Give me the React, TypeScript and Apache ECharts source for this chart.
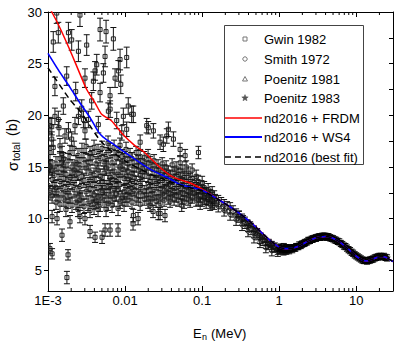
import React, { useEffect, useRef } from "react";
import * as echarts from "echarts";

const X_MIN = 0.001;
const X_MAX = 30;
const Y_MIN = 3;
const Y_MAX = 30;
const yMajorTicks = [5, 10, 15, 20, 25, 30];
const yRightTicks = [5, 7.5, 10, 12.5, 15, 17.5, 20, 22.5, 25, 27.5, 30];
const xMinorTicks = [
  0.002, 0.003, 0.004, 0.005, 0.006, 0.007, 0.008, 0.009,
  0.02, 0.03, 0.04, 0.05, 0.06, 0.07, 0.08, 0.09,
  0.2, 0.3, 0.4, 0.5, 0.6, 0.7, 0.8, 0.9,
  2, 3, 4, 5, 6, 7, 8, 9, 20,
];
const legendNames = [
  "Gwin 1982", "Smith 1972", "Poenitz 1981", "Poenitz 1983",
  "nd2016 + FRDM", "nd2016 + WS4", "nd2016 (best fit)",
];

// Gwin 1982: scattered points above the main band [E (MeV), sigma (b), error]
const gwinUpper = [
  [0.00106, 19.0, 0.8], [0.00112, 17.7, 0.7], [0.00106, 16.4, 0.7], [0.00117, 16.9, 0.7],
  [0.00112, 18.9, 0.8], [0.00123, 19.9, 0.8], [0.00136, 19.6, 0.8], [0.00139, 18.8, 0.8],
  [0.00143, 17.05, 0.7], [0.00158, 20.9, 0.8], [0.00166, 18.0, 0.7], [0.00175, 23.8, 0.9],
  [0.00184, 18.5, 0.8], [0.00203, 17.7, 0.7], [0.00224, 19.0, 0.8], [0.00248, 19.9, 0.8],
  [0.00274, 20.7, 0.8], [0.00302, 18.5, 0.8], [0.00334, 19.6, 0.8], [0.00369, 21.4, 0.8],
  [0.00388, 23.3, 0.9], [0.00408, 24.3, 0.9], [0.00429, 24.9, 1.0], [0.0045, 19.1, 0.8],
  [0.00474, 22.2, 0.9], [0.00523, 24.1, 0.9], [0.0055, 25.7, 1.0], [0.00607, 20.4, 0.8],
  [0.00639, 21.9, 0.8], [0.00742, 23.6, 0.9], [0.0078, 19.5, 0.8], [0.00861, 25.4, 1.0],
  [0.0095, 19.9, 0.8], [0.011, 20.9, 0.8], [0.0128, 20.1, 0.8], [0.0105, 25.6, 1.0],
  [0.00906, 18.3, 0.7], [0.00117, 27.1, 1.0], [0.00136, 28.0, 1.0], [0.0013, 29.9, 1.0],
  [0.00184, 28.0, 1.0], [0.00203, 27.3, 1.0], [0.0026, 29.7, 1.1], [0.00248, 26.2, 1.0],
  [0.00318, 26.8, 1.0], [0.00302, 23.6, 0.9], [0.00474, 28.3, 1.1], [0.00567, 28.1, 1.1],
  [0.00705, 27.4, 1.1], [0.00819, 24.3, 1.0], [0.0088, 23.0, 0.9], [0.00123, 22.8, 0.9],
  [0.00229, 22.3, 0.9], [0.00288, 19.6, 0.8], [0.0064, 20.6, 0.8], [0.0122, 20.1, 0.8],
  [0.0105, 18.65, 0.7], [0.0157, 17.4, 0.7], [0.0191, 19.0, 0.7], [0.02, 18.8, 0.6],
  [0.0233, 18.5, 0.7], [0.0285, 17.4, 0.7], [0.0348, 18.0, 0.7], [0.0424, 17.7, 0.7],
  [0.0314, 17.2, 0.7], [0.0365, 18.65, 0.7], [0.0518, 16.7, 0.6], [0.0602, 16.1, 0.6],
  [0.0895, 16.4, 0.6], [0.00106, 15.1, 0.6], [0.00158, 15.8, 0.6],
];

// Gwin 1982: low outliers below the main band
const gwinLow = [
  [0.00106, 7.1, 0.5], [0.00113, 6.6, 0.5], [0.00182, 6.5, 0.5], [0.00176, 4.3, 0.6],
  [0.00152, 8.4, 0.6], [0.00351, 8.75, 0.6], [0.00408, 8.2, 0.5], [0.00503, 8.2, 0.6],
  [0.0055, 8.9, 0.6], [0.00639, 8.9, 0.6], [0.00811, 8.9, 0.6], [0.0127, 9.5, 0.6],
  [0.0231, 10.7, 0.6], [0.0285, 10.5, 0.6], [0.033, 10.3, 0.6], [0.00113, 10.2, 0.6],
  [0.00131, 10.0, 0.6], [0.00193, 9.7, 0.6], [0.0026, 10.2, 0.6], [0.00302, 10.0, 0.6],
  [0.01476, 10.0, 0.6], [0.027, 10.5, 0.6], [0.0211, 11.3, 0.6], [0.0128, 10.3, 0.6],
  [0.0544, 11.3, 0.6], [0.0943, 11.4, 0.5],
];

// Gwin 1982: dense band [E, error, sigma values]
const gwinBand: [number, number, number[]][] = [
  [0.001, 0.7, [13.2, 14.6]], [0.00106, 0.7, [12.5, 15.0]], [0.00113, 0.7, [13.8, 12.2, 14.9]],
  [0.0012, 0.7, [14.2, 12.8]], [0.00127, 0.7, [13.0, 15.3, 11.6]], [0.00135, 0.7, [14.5, 12.4]],
  [0.00143, 0.7, [13.6, 11.4, 15.8]], [0.00152, 0.7, [12.9, 14.8, 16.3]], [0.00161, 0.7, [11.9, 13.9, 15.2]],
  [0.00171, 0.7, [12.6, 14.3, 10.9]], [0.00182, 0.7, [13.3, 15.6, 11.7]], [0.00193, 0.7, [12.2, 14.0, 16.4]],
  [0.00205, 0.7, [13.5, 11.3, 15.0]], [0.00218, 0.7, [12.8, 14.7, 16.8]], [0.00231, 0.7, [11.6, 13.9, 15.4]],
  [0.00245, 0.7, [12.4, 14.4, 10.9, 16.1]], [0.0026, 0.7, [13.1, 15.2, 11.8]], [0.00276, 0.7, [12.0, 14.1, 16.6]],
  [0.00293, 0.7, [13.7, 11.2, 15.7]], [0.00312, 0.7, [12.6, 14.9, 17.0]], [0.00331, 0.7, [11.5, 13.3, 15.5]],
  [0.00351, 0.7, [12.9, 14.5, 16.3, 10.8]], [0.00373, 0.7, [13.8, 11.9, 15.9]], [0.00396, 0.7, [12.3, 14.2, 16.9, 11.1]],
  [0.0042, 0.7, [13.4, 15.3, 11.7]], [0.00446, 0.7, [12.1, 14.7, 16.5, 10.9]], [0.00474, 0.7, [13.0, 15.8, 11.4, 14.1]],
  [0.00503, 0.7, [12.5, 16.8, 13.6]], [0.00534, 0.7, [11.8, 14.4, 15.5, 13.0]], [0.00567, 0.7, [12.7, 16.2, 10.9, 14.9]],
  [0.00602, 0.7, [13.5, 11.5, 15.1, 17.3]], [0.00639, 0.7, [12.2, 14.0, 16.6, 13.2]], [0.00678, 0.7, [11.3, 15.4, 13.8]],
  [0.0072, 0.7, [12.9, 14.6, 16.9, 11.9]], [0.00764, 0.7, [13.6, 15.9, 12.4]], [0.00811, 0.7, [11.0, 14.3, 16.3, 12.8]],
  [0.00861, 0.7, [13.3, 15.0, 11.7, 17.1]], [0.00914, 0.7, [12.0, 14.8, 16.0]], [0.00971, 0.7, [13.9, 11.4, 15.6, 12.6]],
  [0.0103, 0.7, [12.3, 14.1, 16.7]], [0.0109, 0.6, [13.1, 15.3, 11.8, 14.6]], [0.0116, 0.6, [12.5, 16.2, 13.7]],
  [0.0123, 0.6, [11.6, 14.4, 15.8, 13.0]], [0.0131, 0.6, [12.8, 15.1, 14.0]], [0.0139, 0.6, [13.5, 11.9, 16.4]],
  [0.0148, 0.6, [12.2, 14.7, 15.5]], [0.0157, 0.6, [13.2, 11.4, 14.2, 16.0]], [0.0166, 0.6, [12.6, 15.2, 13.8]],
  [0.0177, 0.6, [11.9, 14.5, 15.9]], [0.0188, 0.6, [13.0, 12.3, 15.0]], [0.0199, 0.6, [14.1, 11.6, 16.1]],
  [0.0211, 0.6, [12.7, 13.6, 15.4]], [0.0224, 0.6, [11.9, 14.8, 13.2]], [0.0238, 0.6, [12.4, 15.6, 14.0]],
  [0.0253, 0.6, [13.4, 11.7, 14.7]], [0.0268, 0.6, [12.1, 15.1, 13.6]], [0.0285, 0.6, [12.9, 14.3, 11.5]],
  [0.0303, 0.6, [13.7, 12.4, 15.3]], [0.0321, 0.6, [11.8, 14.6, 13.1]], [0.0341, 0.6, [12.6, 13.9, 15.0]],
  [0.0362, 0.6, [13.3, 12.0, 14.5]], [0.0384, 0.6, [11.7, 14.1, 12.8]], [0.0408, 0.6, [13.5, 12.3, 15.2]],
  [0.0433, 0.6, [12.9, 14.4, 11.9]], [0.046, 0.6, [12.2, 13.7, 14.9]], [0.0488, 0.6, [13.1, 11.8, 14.3]],
  [0.0518, 0.6, [12.5, 13.9, 15.4]], [0.055, 0.6, [12.0, 13.3, 14.6]], [0.0584, 0.6, [12.8, 11.6, 14.0]],
  [0.062, 0.6, [13.6, 12.3, 15.0]], [0.0659, 0.6, [11.9, 13.0, 14.4]], [0.0699, 0.6, [12.6, 13.8, 11.7]],
  [0.0742, 0.6, [13.2, 12.1, 14.7]], [0.0788, 0.6, [12.4, 13.5]], [0.0837, 0.6, [11.8, 12.9, 14.1]],
  [0.0888, 0.6, [12.7, 13.6, 11.9]], [0.0943, 0.6, [12.2, 13.1]], [0.1001, 0.6, [12.6, 11.8, 13.5]],
  [0.1063, 0.6, [12.0, 13.0]], [0.1128, 0.6, [12.4, 11.6]], [0.1198, 0.6, [11.9, 12.8]],
  [0.1272, 0.6, [12.2, 11.4]], [0.135, 0.6, [11.7, 12.5]], [0.1434, 0.6, [11.5, 12.1]],
];

// Smith 1972 [E, sigma, error]
const smith1972 = [
  [0.103, 12.5, 0.55], [0.113, 12.4, 0.55], [0.113, 11.9, 0.55], [0.124, 12.2, 0.55],
  [0.135, 12.0, 0.55], [0.135, 11.5, 0.55], [0.147, 11.8, 0.55], [0.162, 11.7, 0.55],
  [0.162, 11.2, 0.55], [0.177, 11.5, 0.55], [0.193, 11.3, 0.55], [0.193, 10.8, 0.55],
  [0.211, 11.1, 0.55], [0.231, 11.0, 0.55], [0.231, 10.4, 0.55], [0.252, 10.7, 0.55],
  [0.276, 10.4, 0.55], [0.276, 9.9, 0.55], [0.301, 10.2, 0.55], [0.33, 9.9, 0.55],
  [0.33, 9.4, 0.55], [0.36, 9.6, 0.55], [0.394, 9.3, 0.55], [0.394, 8.8, 0.55],
  [0.431, 9.0, 0.55], [0.471, 8.7, 0.55], [0.471, 8.2, 0.55], [0.515, 8.5, 0.55],
  [0.563, 8.1, 0.5], [0.563, 7.7, 0.5], [0.615, 7.9, 0.5], [0.672, 7.6, 0.5],
  [0.672, 7.2, 0.5], [0.735, 7.5, 0.5], [0.803, 7.3, 0.5], [0.803, 6.9, 0.5],
  [0.878, 7.2, 0.45], [0.96, 7.0, 0.45], [0.96, 6.8, 0.45], [1.05, 7.05, 0.4],
  [1.15, 6.9, 0.4], [1.15, 7.2, 0.4], [1.25, 7.0, 0.4],
];

// Poenitz 1981 [E, sigma, error]
const poenitz1981 = [
  [0.3, 10.4, 0.3], [0.34, 10.0, 0.3], [0.38, 9.6, 0.3], [0.42, 9.4, 0.3],
  [0.47, 9.0, 0.3], [0.52, 8.7, 0.3], [0.58, 8.3, 0.3], [0.64, 8.0, 0.3],
  [0.7, 7.7, 0.3], [0.77, 7.5, 0.3], [0.85, 7.3, 0.3], [0.93, 7.1, 0.3],
  [1.02, 6.9, 0.3], [1.12, 6.8, 0.3], [1.22, 6.85, 0.3], [1.35, 6.9, 0.3],
  [1.48, 7.0, 0.3], [1.62, 7.15, 0.3], [1.78, 7.3, 0.3], [1.95, 7.5, 0.3],
  [2.15, 7.65, 0.3], [2.4, 7.85, 0.3], [2.7, 8.0, 0.3], [3.0, 8.1, 0.3],
  [3.4, 8.2, 0.3], [3.8, 8.3, 0.3], [4.2, 8.25, 0.3],
];

// Poenitz 1983 [E, sigma, error]
const poenitz1983 = [
  [1.0, 7.15, 0.3], [1.047, 7.25, 0.3], [1.096, 7.05, 0.3], [1.148, 7.15, 0.3], [1.202, 7.0, 0.3],
  [1.259, 7.2, 0.3], [1.318, 7.05, 0.3], [1.38, 7.15, 0.3], [1.445, 7.1, 0.3], [1.514, 7.2, 0.3],
  [1.585, 7.15, 0.3], [1.66, 7.3, 0.3], [1.738, 7.3, 0.3], [1.82, 7.45, 0.3], [1.905, 7.4, 0.3],
  [1.995, 7.55, 0.3], [2.089, 7.6, 0.3], [2.188, 7.7, 0.3], [2.291, 7.75, 0.3], [2.399, 7.9, 0.3],
  [2.512, 7.9, 0.3], [2.63, 8.0, 0.3], [2.754, 8.05, 0.3], [2.884, 8.1, 0.3], [3.02, 8.15, 0.3],
  [3.162, 8.2, 0.3], [3.311, 8.25, 0.3], [3.467, 8.2, 0.3], [3.631, 8.3, 0.3], [3.802, 8.25, 0.3],
  [3.981, 8.3, 0.3], [4.169, 8.2, 0.3], [4.365, 8.25, 0.3], [4.571, 8.15, 0.3], [4.786, 8.1, 0.3],
  [5.012, 8.05, 0.3], [5.248, 7.95, 0.3], [5.495, 7.9, 0.3], [5.754, 7.8, 0.3], [6.026, 7.75, 0.3],
  [6.31, 7.6, 0.3], [6.607, 7.5, 0.3], [6.918, 7.35, 0.3], [7.244, 7.3, 0.3], [7.586, 7.15, 0.3],
  [7.943, 7.0, 0.3], [8.318, 6.9, 0.3], [8.71, 6.75, 0.3], [9.12, 6.65, 0.3], [9.55, 6.5, 0.3],
  [10.0, 6.4, 0.3], [10.47, 6.3, 0.3], [10.96, 6.2, 0.3], [11.48, 6.1, 0.3], [12.02, 6.0, 0.3],
  [12.59, 5.95, 0.3], [13.18, 5.95, 0.3], [13.8, 5.9, 0.3], [14.45, 5.95, 0.3], [15.14, 6.0, 0.3],
  [15.85, 6.05, 0.3], [16.6, 6.1, 0.3], [17.38, 6.2, 0.3], [18.2, 6.25, 0.3], [19.05, 6.3, 0.3],
  [19.95, 6.35, 0.3], [20.89, 6.35, 0.3], [21.88, 6.3, 0.3], [22.91, 6.35, 0.3], [23.99, 6.25, 0.3],
  [25.12, 6.2, 0.3],
];

// Model curves [E, sigma]
const highEnergyCurve = [
  [0.171, 11.76], [0.23, 11.15], [0.3, 10.55], [0.42, 9.7], [0.6, 8.6], [0.76, 7.9],
  [1.0, 7.25], [1.2, 7.1], [1.4, 7.1], [1.6, 7.2], [1.86, 7.4], [2.2, 7.7], [2.5, 7.9],
  [2.9, 8.1], [3.4, 8.22], [4.0, 8.27], [4.6, 8.2], [5.3, 8.0], [6.2, 7.7], [7.2, 7.3],
  [8.2, 6.95], [9.5, 6.5], [11.3, 6.1], [12.5, 5.95], [13.8, 5.9], [15.2, 6.0], [16.9, 6.12],
  [18.5, 6.25], [20.5, 6.32], [22.5, 6.32], [24.9, 6.22], [27, 6.05], [30, 5.85],
];
const frdmLow = [
  [0.001, 30.6], [0.00112, 30.0], [0.0014, 28.6], [0.00193, 26.3], [0.00247, 24.4],
  [0.00318, 22.5], [0.00408, 21.2], [0.00497, 20.1], [0.0067, 19.45], [0.009, 18.3],
  [0.0135, 17.05], [0.0173, 16.5], [0.028, 15.0], [0.0384, 14.2], [0.05, 13.8],
  [0.07, 13.45], [0.1, 12.85],
];
const ws4Low = [
  [0.001, 26.0], [0.00136, 24.4], [0.00193, 22.7], [0.0026, 21.2], [0.0035, 19.8],
  [0.0045, 18.4], [0.0052, 17.9], [0.0074, 17.1], [0.0105, 16.3], [0.021, 14.8],
  [0.035, 14.0], [0.052, 13.3], [0.1, 12.75],
];
const bestFitLow = [
  [0.001, 24.6], [0.00193, 21.5], [0.0026, 20.4], [0.0035, 19.0], [0.0045, 17.8],
  [0.006, 16.8], [0.01, 15.6], [0.02, 14.4], [0.035, 13.7], [0.06, 13.1], [0.1, 12.7],
];

const FONT = '"Liberation Sans", Arial, Helvetica, sans-serif';

function starPoints(cx: number, cy: number, R: number, r: number) {
  const pts: number[][] = [];
  for (let i = 0; i < 10; i++) {
    const a = -Math.PI / 2 + (i * Math.PI) / 5;
    const rad = i % 2 === 0 ? R : r;
    pts.push([cx + rad * Math.cos(a), cy + rad * Math.sin(a)]);
  }
  return pts;
}

function makeSymbol(kind: string, x: number, y: number, color: string, fill: string) {
  if (kind === "rect") {
    return { type: "rect", shape: { x: x - 2, y: y - 2, width: 4, height: 4 }, style: { fill, stroke: color, lineWidth: 1 } };
  }
  if (kind === "circle") {
    return { type: "circle", shape: { cx: x, cy: y, r: 2.2 }, style: { fill, stroke: color, lineWidth: 1 } };
  }
  if (kind === "triangle") {
    return { type: "polygon", shape: { points: [[x, y - 2.5], [x + 2.5, y + 2], [x - 2.5, y + 2]] }, style: { fill, stroke: color, lineWidth: 1 } };
  }
  return { type: "polygon", shape: { points: starPoints(x, y, 3.4, 1.5) }, style: { fill: color, stroke: color, lineWidth: 0.5 } };
}

function errorBarRenderer(kind: string, color: string, barColor: string, fill: string) {
  return (_params: any, api: any) => {
    const E = api.value(0);
    const s = api.value(1);
    const e = api.value(2);
    const p = api.coord([E, s]);
    const t = api.coord([E, s + e]);
    const b = api.coord([E, s - e]);
    const cw = 3;
    const ls = { stroke: barColor, lineWidth: 1 };
    return {
      type: "group",
      children: [
        { type: "line", shape: { x1: p[0], y1: t[1], x2: p[0], y2: b[1] }, style: ls },
        { type: "line", shape: { x1: p[0] - cw, y1: t[1], x2: p[0] + cw, y2: t[1] }, style: ls },
        { type: "line", shape: { x1: p[0] - cw, y1: b[1], x2: p[0] + cw, y2: b[1] }, style: ls },
        makeSymbol(kind, p[0], p[1], color, fill),
      ],
    };
  };
}

function legendGraphics() {
  const rows = [39, 59, 79, 98, 118, 137, 157];
  const els: any[] = [
    { type: "rect", shape: { x: 224.5, y: 25.5, width: 139, height: 139 }, style: { fill: "#fff", stroke: "#444", lineWidth: 1 }, z: 100 },
  ];
  legendNames.forEach((name, i) => {
    els.push({ type: "text", x: 264, y: rows[i], z: 101, style: { text: name, font: `13px ${FONT}`, fill: "#000", textVerticalAlign: "middle", verticalAlign: "middle" } });
  });
  const sx = 245;
  els.push({ ...makeSymbol("rect", sx, rows[0], "#777", "#fff"), z: 101 });
  els.push({ ...makeSymbol("circle", sx, rows[1], "#777", "#fff"), z: 101 });
  els.push({ ...makeSymbol("triangle", sx, rows[2], "#777", "#fff"), z: 101 });
  els.push({ ...makeSymbol("star", sx, rows[3], "#555", "#555"), z: 101 });
  els.push({ type: "line", z: 101, shape: { x1: 225, y1: rows[4], x2: 262, y2: rows[4] }, style: { stroke: "#ff0000", lineWidth: 1.5 } });
  els.push({ type: "line", z: 101, shape: { x1: 225, y1: rows[5], x2: 262, y2: rows[5] }, style: { stroke: "#0000ff", lineWidth: 2 } });
  els.push({ type: "line", z: 101, shape: { x1: 225, y1: rows[6], x2: 262, y2: rows[6] }, style: { stroke: "#000", lineWidth: 1.5, lineDash: [6, 4] } });
  return els;
}

function titleGraphics() {
  return [
    {
      type: "group", x: 12, y: 171, rotation: Math.PI / 2,
      children: [
        { type: "text", x: 0, y: 0, style: { text: "σ", font: `15px ${FONT}`, fill: "#000", textVerticalAlign: "middle", verticalAlign: "middle" } },
        { type: "text", x: 10, y: 4, style: { text: "total", font: `10px ${FONT}`, fill: "#000", textVerticalAlign: "middle", verticalAlign: "middle" } },
        { type: "text", x: 35, y: 0, style: { text: "(b)", font: `14px ${FONT}`, fill: "#000", textVerticalAlign: "middle", verticalAlign: "middle" } },
      ],
    },
    { type: "text", x: 193, y: 333, style: { text: "E", font: `13px ${FONT}`, fill: "#000", textVerticalAlign: "middle", verticalAlign: "middle" } },
    { type: "text", x: 202, y: 337, style: { text: "n", font: `9px ${FONT}`, fill: "#000", textVerticalAlign: "middle", verticalAlign: "middle" } },
    { type: "text", x: 211, y: 333, style: { text: "(MeV)", font: `13px ${FONT}`, fill: "#000", textVerticalAlign: "middle", verticalAlign: "middle" } },
  ];
}

export default function App() {
  const ref = useRef<HTMLDivElement>(null);
  useEffect(() => {
    if (!ref.current) return;
    const chart = echarts.init(ref.current, undefined, { renderer: "svg" });
    const gwinAll = [
      ...gwinBand.flatMap(([E, err, ys]) => ys.map((y) => [E, y, err])),
      ...gwinUpper,
      ...gwinLow,
    ];
    const axisLineStyle = { color: "#000", width: 1 };
    const xAxisCommon = {
      type: "log", logBase: 10, min: X_MIN, max: X_MAX,
      axisLine: { show: true, onZero: false, lineStyle: axisLineStyle },
      axisTick: { show: true, inside: true, length: 5, lineStyle: { color: "#000" } },
      splitLine: { show: false },
      minorTick: { show: false },
    };
    const decadeLabel = (v: number) => {
      const l = Math.log10(v);
      if (Math.abs(l - Math.round(l)) > 1e-6) return "";
      if (Math.round(l) === -3) return "1E-3";
      return String(Math.pow(10, Math.round(l)));
    };
    const option: any = {
      animation: false,
      textStyle: { fontFamily: FONT },
      grid: { left: 48, right: 2, top: 12, bottom: 54, containLabel: false },
      xAxis: [
        { ...xAxisCommon, position: "bottom", axisLabel: { formatter: decadeLabel, color: "#000", fontSize: 13, margin: 3, fontFamily: FONT, showMaxLabel: false } },
        { ...xAxisCommon, position: "top", axisLabel: { show: false } },
      ],
      yAxis: [
        {
          type: "value", min: Y_MIN, max: Y_MAX, position: "left",
          axisLine: { show: true, onZero: false, lineStyle: axisLineStyle },
          axisTick: { show: true, inside: false, length: 4, customValues: yMajorTicks, lineStyle: { color: "#000" } },
          axisLabel: { customValues: yMajorTicks, color: "#000", fontSize: 13, margin: 6, fontFamily: FONT },
          splitLine: { show: false },
        },
        {
          type: "value", min: Y_MIN, max: Y_MAX, position: "right",
          axisLine: { show: true, onZero: false, lineStyle: axisLineStyle },
          axisTick: { show: true, inside: true, length: 4, customValues: yRightTicks, lineStyle: { color: "#000" } },
          axisLabel: { show: false },
          splitLine: { show: false },
        },
      ],
      series: [
        { name: "Gwin 1982", type: "custom", clip: true, xAxisIndex: 0, yAxisIndex: 0, encode: { x: 0, y: 1 }, data: gwinAll, renderItem: errorBarRenderer("rect", "#222", "#111", "none") },
        { name: "Smith 1972", type: "custom", clip: true, xAxisIndex: 0, yAxisIndex: 0, encode: { x: 0, y: 1 }, data: smith1972, renderItem: errorBarRenderer("circle", "#222", "#111", "none") },
        { name: "Poenitz 1981", type: "custom", clip: true, xAxisIndex: 0, yAxisIndex: 0, encode: { x: 0, y: 1 }, data: poenitz1981, renderItem: errorBarRenderer("triangle", "#111", "#111", "none") },
        { name: "Poenitz 1983", type: "custom", clip: true, xAxisIndex: 0, yAxisIndex: 0, encode: { x: 0, y: 1 }, data: poenitz1983, renderItem: errorBarRenderer("star", "#000", "#000", "#000") },
        { name: "nd2016 + FRDM", type: "line", xAxisIndex: 0, yAxisIndex: 0, data: [...frdmLow, ...highEnergyCurve], symbol: "none", smooth: 0.2, lineStyle: { color: "#ff0000", width: 1.5 }, z: 5 },
        { name: "nd2016 + WS4", type: "line", xAxisIndex: 0, yAxisIndex: 0, data: [...ws4Low, ...highEnergyCurve], symbol: "none", smooth: 0.2, lineStyle: { color: "#0000ff", width: 1.6 }, z: 6 },
        { name: "nd2016 (best fit)", type: "line", xAxisIndex: 0, yAxisIndex: 0, data: [...bestFitLow, ...highEnergyCurve], symbol: "none", smooth: 0.2, lineStyle: { color: "#000", width: 1.5, type: [6, 4] }, z: 7 },
        {
          name: "minorTicks", type: "custom", clip: false, silent: true, xAxisIndex: 0, yAxisIndex: 0, z: 10,
          encode: { x: 0, y: 1 },
          data: xMinorTicks.map((v) => [v, Y_MIN]),
          renderItem: (_p: any, api: any) => {
            const v = api.value(0);
            const b = api.coord([v, Y_MIN]);
            const t = api.coord([v, Y_MAX]);
            const ls = { stroke: "#000", lineWidth: 1 };
            return {
              type: "group",
              children: [
                { type: "line", shape: { x1: b[0], y1: b[1], x2: b[0], y2: b[1] - 3 }, style: ls },
                { type: "line", shape: { x1: t[0], y1: t[1], x2: t[0], y2: t[1] + 3 }, style: ls },
              ],
            };
          },
        },
      ],
      graphic: { elements: [...legendGraphics(), ...titleGraphics()] },
    };
    chart.setOption(option);
    return () => chart.dispose();
  }, []);
  return <div ref={ref} style={{ position: "fixed", left: 0, top: 0, width: 395, height: 345, background: "#fff" }} />;
}
